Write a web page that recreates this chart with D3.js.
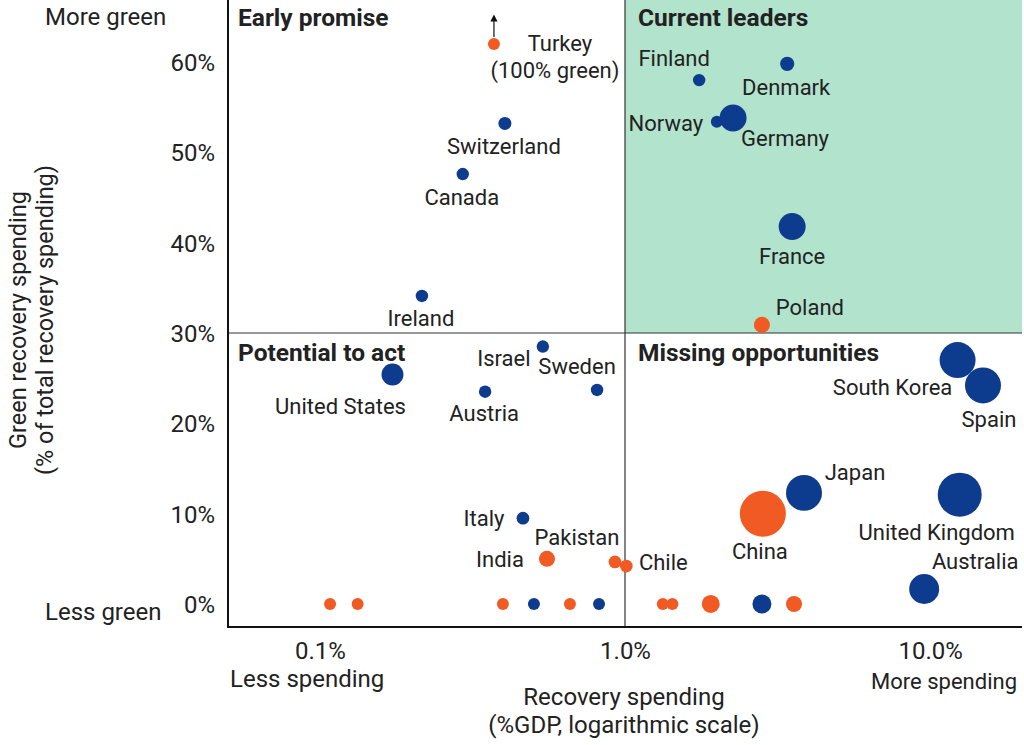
<!DOCTYPE html>
<html><head><meta charset="utf-8">
<script src="https://cdn.jsdelivr.net/npm/d3@7"></script>
<style>
body{margin:0;background:#fff}
text{font-family:Roboto,"Noto Sans",sans-serif;fill:#222}
</style>
</head><body>
<svg id="chart" width="1024" height="745"></svg>
<script>
// ---------------- DATA ----------------
const countries = ["Turkey\n(100% green)","Switzerland","Canada","Ireland","Finland","Denmark","Norway","Germany","France","Poland",
  "United States","Israel","Sweden","Austria","Italy","Pakistan","India","Chile",
  "South Korea","Spain","Japan","China","United Kingdom","Australia",
  "","","","","","","","","","",""];
const spending = [0.372,0.404,0.294,0.216,1.75,3.40,2.00,2.26,3.53,2.81,
  0.173,0.538,0.81,0.348,0.463,0.927,0.555,1.01,
  12.3,14.9,3.86,2.83,12.5,9.56,
  0.108,0.133,0.398,0.503,0.66,0.822,1.33,1.43,1.91,2.81,3.58];
const greenShare = [100,53.2,47.6,34.1,58.0,59.8,53.4,53.8,41.8,30.9,
  25.4,28.5,23.7,23.5,9.5,4.65,5.0,4.2,
  27.0,24.2,12.3,10.0,12.1,1.66,
  0,0,0,0,0,0,0,0,0,0,0];
const bubbleSize = [39,46,42,42,42,55,39,198,198,70,
  131,42,42,42,44,44,70,44,
  352,352,352,575,526,244,
  39,39,39,39,39,39,39,39,88,98,70];
const economyGroup = ["E","A","A","A","A","A","A","A","A","E",
  "A","A","A","A","A","E","E","E",
  "A","A","A","E","A","A",
  "E","E","E","A","E","A","E","E","E","A","E"];
const yTicks = [0,10,20,30,40,50,60];
const xTicks = [0.1,1,10];
const quadrantTitles = ["Early promise","Current leaders","Potential to act","Missing opportunities"];
const greenThreshold = 30;   // % green divider
const spendThreshold = 1;    // %GDP divider
const displayCap = 62;       // values above are drawn at the cap with an arrow

// ---------------- LAYOUT ----------------
const colors = {A:"#0d3b8e", E:"#f15a22"};
const plot = {l:228, r:1022, t:0, b:627};
const svg = d3.select("#chart");
const FS = 24, LFS = 22, QFS = 24.5;

const x = d3.scaleLog().domain([0.05, 20]).range([plot.l, plot.r]);
const y = d3.scaleLinear().domain([-2.55, 66.87]).range([plot.b, plot.t]);
const r = d3.scaleSqrt().domain([0, 600]).range([0, 23.5]);

// label offsets (dx, dy per line) relative to point centre
const labelOffsets = {
  "Turkey\n(100% green)": [[66,0],[61,27]],
  "Switzerland":[[-1,23]], "Canada":[[-1,23]], "Ireland":[[-1,23]],
  "Finland":[[-25,-22]], "Denmark":[[-1,24]], "Norway":[[-51,2]], "Germany":[[52,20]],
  "France":[[0,30]], "Poland":[[48,-17]], "United States":[[-52,32]],
  "Israel":[[-39,12]], "Sweden":[[-20,-23]], "Austria":[[-1,22]], "Italy":[[-39,0]],
  "Pakistan":[[-38,-24]], "India":[[-47,1]], "Chile":[[37,-4]],
  "South Korea":[[-65,27]], "Spain":[[6,34]], "Japan":[[51,-20]], "China":[[-3,38]],
  "United Kingdom":[[-23,38]], "Australia":[[51,-27]]
};

// green quadrant
svg.append("rect")
  .attr("x", x(spendThreshold)).attr("y", plot.t)
  .attr("width", plot.r - x(spendThreshold)).attr("height", y(greenThreshold) - plot.t)
  .attr("fill", "#b2e3cd");

// dividers
svg.append("line").attr("x1", x(spendThreshold)).attr("x2", x(spendThreshold))
  .attr("y1", plot.t).attr("y2", plot.b).attr("stroke", "#333").attr("stroke-width", 1.2);
svg.append("line").attr("x1", plot.l).attr("x2", plot.r)
  .attr("y1", y(greenThreshold)).attr("y2", y(greenThreshold)).attr("stroke", "#333").attr("stroke-width", 1.2);

// axes lines
svg.append("line").attr("x1", plot.l).attr("x2", plot.l).attr("y1", plot.t).attr("y2", plot.b)
  .attr("stroke", "#111").attr("stroke-width", 2);
svg.append("line").attr("x1", plot.l - 1).attr("x2", plot.r).attr("y1", plot.b).attr("stroke-width", 2)
  .attr("y2", plot.b).attr("stroke", "#111");

// y tick labels via axis
const yAxis = svg.append("g").attr("transform", `translate(${plot.l - 10},0)`)
  .call(d3.axisLeft(y).tickValues(yTicks).tickSize(0).tickFormat(d => d + "%"));
yAxis.select(".domain").remove();
yAxis.selectAll("text").attr("font-size", FS).attr("fill", "#222").attr("dy", "0.35em")
  .style("font-family", "Roboto");

// x tick labels via axis
const xAxis = svg.append("g").attr("transform", `translate(0,${plot.b})`)
  .call(d3.axisBottom(x).tickValues(xTicks).tickSize(0).tickFormat(d => d.toFixed(1) + "%"));
xAxis.select(".domain").remove();
xAxis.selectAll("text").attr("font-size", FS).attr("fill", "#222").attr("y", 24).attr("dy", "0")
  .attr("dominant-baseline", "central").style("font-family", "Roboto");

// axis end notes
const note = (t, xx, yy, anchor, fs) => svg.append("text").attr("x", xx).attr("y", yy)
  .attr("text-anchor", anchor).attr("dominant-baseline", "central").attr("font-size", fs || FS).text(t);
note("More green", 45, 17, "start");
note("Less green", 45, 612, "start");
note("Less spending", 230, 679, "start");
note("More spending", 1017, 681, "end", 22);

// axis titles
note("Recovery spending", 624, 697, "middle");
note("(%GDP, logarithmic scale)", 624, 725, "middle");
const yt = svg.append("g").attr("transform", "translate(0,320) rotate(-90)");
yt.append("text").attr("x", 0).attr("y", 18).attr("text-anchor", "middle")
  .attr("dominant-baseline", "central").attr("font-size", 23.5).text("Green recovery spending");
yt.append("text").attr("x", 0).attr("y", 45).attr("text-anchor", "middle")
  .attr("dominant-baseline", "central").attr("font-size", 23.5).text("(% of total recovery spending)");

// quadrant titles
const qPos = [[plot.l + 10, 17],[x(spendThreshold) + 13, 17],[plot.l + 10, y(greenThreshold) + 19],[x(spendThreshold) + 13, y(greenThreshold) + 19]];
quadrantTitles.forEach((t,i) => {
  svg.append("text").attr("x", qPos[i][0]).attr("y", qPos[i][1])
    .attr("dominant-baseline", "central").attr("font-size", QFS).attr("font-weight", 700)
    .attr("fill", "#111").text(t);
});

// points
const pts = countries.map((c,i) => ({name:c, sx:spending[i], gy:greenShare[i], size:bubbleSize[i], g:economyGroup[i]}));
svg.append("defs").append("marker").attr("id","arr").attr("viewBox","0 0 10 10")
  .attr("refX",5).attr("refY",5).attr("markerWidth",6).attr("markerHeight",6).attr("orient","auto")
  .append("path").attr("d","M0,0 L10,5 L0,10 z").attr("fill","#111");

pts.forEach(p => {
  const cx = x(p.sx), cy = y(Math.min(p.gy, displayCap));
  if (p.gy > displayCap) {
    svg.append("line").attr("x1", cx).attr("x2", cx).attr("y1", cy - 7).attr("y2", cy - 26)
      .attr("stroke", "#111").attr("stroke-width", 1.2).attr("marker-end", "url(#arr)");
  }
});
svg.append("g").selectAll("circle").data(pts).join("circle")
  .attr("cx", d => x(d.sx)).attr("cy", d => y(Math.min(d.gy, displayCap)))
  .attr("r", d => r(d.size)).attr("fill", d => colors[d.g]);

pts.filter(p => p.name).forEach(p => {
  const cx = x(p.sx), cy = y(Math.min(p.gy, displayCap));
  const offs = labelOffsets[p.name] || [[0,20]];
  p.name.split("\n").forEach((line, i) => {
    const o = offs[i] || [offs[0][0], offs[0][1] + 27*i];
    svg.append("text").attr("x", cx + o[0]).attr("y", cy + o[1])
      .attr("text-anchor", "middle").attr("dominant-baseline", "central")
      .attr("font-size", LFS).text(line);
  });
});
</script>
</body></html>
